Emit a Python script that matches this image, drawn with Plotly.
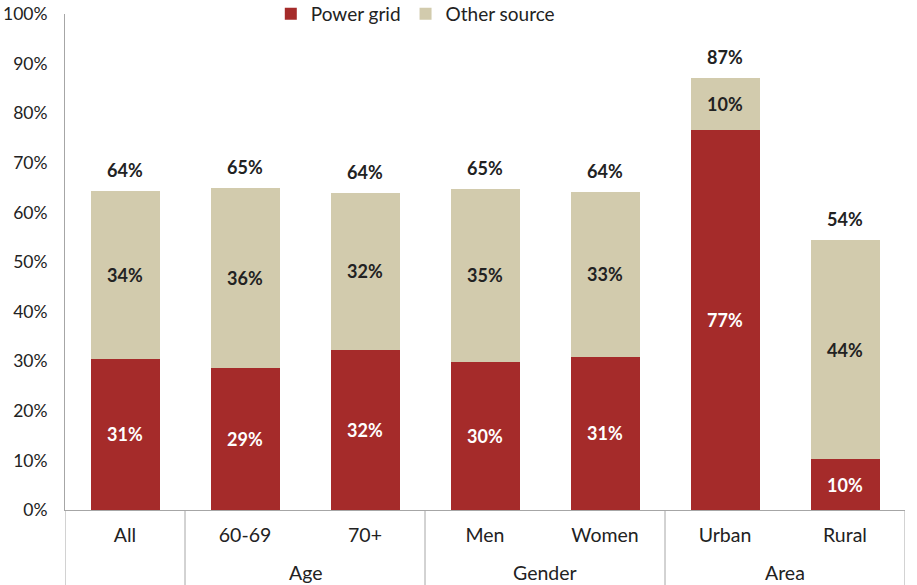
import plotly.graph_objects as go

categories = ["All", "60-69", "70+", "Men", "Women", "Urban", "Rural"]
group_names = ["Age", "Gender", "Area"]
group_centers = [1.5, 3.5, 5.5]
group_edges = [-0.5, 0.5, 2.5, 4.5, 6.5]
power_grid = [30.5, 28.6, 32.3, 29.9, 30.9, 76.7, 10.2]
other_source = [33.8, 36.3, 31.6, 34.8, 33.3, 10.4, 44.2]
power_labels = ["31%", "29%", "32%", "30%", "31%", "77%", "10%"]
other_labels = ["34%", "36%", "32%", "35%", "33%", "10%", "44%"]
total_labels = ["64%", "65%", "64%", "65%", "64%", "87%", "54%"]

FONT = "Lato"
INK = "#222222"
LINE = "#a6a6a6"

fig = go.Figure()
fig.add_trace(go.Bar(
    name="Power grid", x=categories, y=power_grid, text=power_labels,
    marker=dict(color="#a52b2a", line=dict(width=0)),
    textposition="inside", insidetextanchor="middle",
    textfont=dict(family=FONT, size=18, color="white", weight="bold"),
))
fig.add_trace(go.Bar(
    name="Other source", x=categories, y=other_source, text=other_labels,
    marker=dict(color="#d2cbad", line=dict(width=0)),
    textposition="inside", insidetextanchor="middle",
    textfont=dict(family=FONT, size=18, color=INK, weight="bold"),
))

totals = [p + o for p, o in zip(power_grid, other_source)]
for i, (t, lab) in enumerate(zip(totals, total_labels)):
    fig.add_annotation(x=i, y=t, text=f"<b>{lab}</b>", showarrow=False,
                       yshift=21, font=dict(family=FONT, size=18, color=INK))

for name, c in zip(group_names, group_centers):
    fig.add_annotation(x=c, y=-0.127, yref="paper", text=name, showarrow=False,
                       yanchor="middle", font=dict(family=FONT, size=19.5, color=INK))

for e in group_edges:
    fig.add_shape(type="line", xref="x", yref="paper", x0=e, x1=e, y0=0, y1=-0.16,
                  line=dict(color=LINE, width=1))

fig.update_layout(
    barmode="stack",
    bargap=0.425,
    width=917, height=585,
    margin=dict(l=65, r=12, t=14, b=75, autoexpand=False),
    paper_bgcolor="white", plot_bgcolor="white",
    font=dict(family=FONT, size=18, color=INK),
    showlegend=True,
    legend=dict(orientation="h", x=0.245, xanchor="left", y=1.0, yanchor="middle",
                font=dict(family=FONT, size=19, color=INK),
                bgcolor="rgba(0,0,0,0)", traceorder="normal"),
)
fig.update_yaxes(range=[0, 100], dtick=10, ticksuffix="%", showgrid=False,
                 zeroline=False, showline=True, linecolor=LINE, linewidth=1,
                 ticks="", ticklabelstandoff=13, ticklabeloverflow="allow",
                 tickfont=dict(family=FONT, size=17.5, color=INK))
fig.update_xaxes(range=[-0.5, 6.5], showgrid=False, showline=True, linecolor=LINE,
                 linewidth=1, ticks="", ticklabelstandoff=8,
                 tickfont=dict(family=FONT, size=19.5, color=INK))

fig.write_html("out.html", config={"displayModeBar": False},
               post_script="document.body.style.margin='0px';")
